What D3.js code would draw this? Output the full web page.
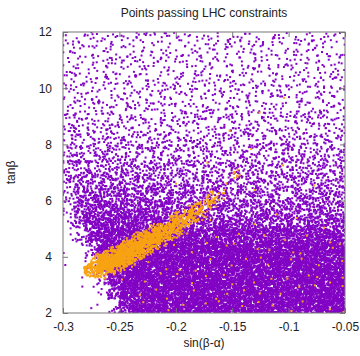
<!DOCTYPE html>
<html>
<head>
<meta charset="utf-8">
<script src="https://cdn.jsdelivr.net/npm/d3@7"></script>
<style>
  body { margin: 0; background: #fff; }
  svg { font-family: "Liberation Sans", Arial, sans-serif; }
</style>
</head>
<body>
<div id="chart"></div>
<script>
const xTicks = [-0.3, -0.25, -0.2, -0.15, -0.1, -0.05];
const yTicks = [2, 4, 6, 8, 10, 12];

// points per cell: 25 columns of 0.01 in sin(β-α) from -0.30,
// 20 rows of 0.5 in tanβ from 12 down to 2
const purpleCells = [
  [6,6,6,6,6,6,6,6,6,6,6,6,6,6,6,6,6,6,6,6,6,6,6,6,6],
  [6,6,6,6,6,6,6,6,6,6,6,6,6,6,6,6,6,6,6,6,6,6,6,6,6],
  [6,6,6,6,6,6,6,6,6,6,6,6,6,6,6,6,6,6,6,6,6,6,6,6,6],
  [7,7,7,7,7,7,7,7,7,7,7,7,7,7,7,7,7,7,7,7,7,7,7,7,7],
  [7,7,7,7,7,7,7,7,7,7,7,7,7,7,7,7,7,7,7,7,7,7,7,7,7],
  [8,8,8,8,8,8,8,8,8,8,8,8,8,8,8,8,8,8,8,8,8,8,8,8,8],
  [10,10,10,10,10,10,10,10,10,10,10,10,10,10,10,10,10,10,10,10,10,10,10,10,10],
  [12,12,12,12,12,12,12,12,12,12,12,12,12,12,12,12,12,12,12,12,12,12,12,12,12],
  [15,16,16,16,16,16,16,16,15,15,15,15,15,14,14,15,15,15,15,15,15,15,15,15,15],
  [17,20,21,21,21,21,21,20,20,19,19,18,17,17,17,18,18,18,18,18,18,18,18,18,18],
  [17,27,28,28,28,28,27,27,26,24,24,23,22,22,22,21,21,21,21,21,21,21,21,21,21],
  [13,34,38,38,38,38,37,36,35,31,31,30,29,29,29,26,26,26,26,26,26,26,26,26,26],
  [11,42,50,52,52,52,50,49,48,45,40,39,38,38,38,33,33,33,33,33,33,33,33,33,33],
  [7,30,68,72,72,72,70,68,66,63,58,55,53,53,53,48,46,46,46,46,46,46,46,46,46],
  [2,11,55,92,95,95,95,94,92,92,90,86,84,84,84,82,80,80,80,80,80,80,80,80,80],
  [1,2,22,88,108,110,110,110,110,110,108,108,108,108,108,108,108,108,108,108,108,108,108,108,108],
  [1,1,5,45,108,112,112,112,112,112,112,112,112,112,112,112,112,112,112,112,112,112,112,112,112],
  [0,1,2,13,85,114,114,114,114,114,114,114,114,114,114,114,114,114,114,114,114,114,114,114,114],
  [0,1,1,4,48,114,114,114,114,114,114,114,114,114,114,114,114,114,114,114,114,114,114,114,114],
  [0,0,1,1,9,66,114,114,114,114,114,114,114,114,114,114,114,114,114,114,114,114,114,114,114]
];

// scattered orange points, same grid
const orangeCells = [
  [0,0,0,0,0,0,0,0,0,0,0,0,0,0,0,0,0,0,0,0,0,0,0,0,0],
  [0,0,0,0,0,0,0,0,0,0,0,0,0,0,0,0,0,0,0,0,0,0,0,0,0],
  [0,0,0,0,0,0,0,0,0,0,0,0,0,0,0,0,0,0,0,0,0,0,0,0,0],
  [0,0,0,0,0,0,0,0,0,0,0,0,0,0,0,0,0,0,0,0,0,0,0,0,0],
  [0,0,0,0,0,0,0,0,0,0,0,0,0,0,0,0,0,0,0,1,0,0,0,0,0],
  [0,0,0,0,0,0,0,0,0,0,0,0,0,0,0,0,0,1,0,0,0,0,0,0,0],
  [0,0,0,0,0,0,0,0,0,0,0,0,0,0,0,0,0,0,0,0,0,0,0,0,0],
  [0,0,0,0,0,0,0,0,0,0,0,0,0,0,1,0,0,0,0,0,0,0,0,0,0],
  [0,0,0,0,0,0,0,0,0,0,0,0,0,0,0,0,1,0,0,0,0,0,0,0,0],
  [0,0,0,0,0,0,0,0,0,0,0,0,1,0,0,0,0,0,0,1,0,0,0,0,0],
  [0,0,0,0,0,0,0,0,0,0,1,0,0,0,1,0,0,0,0,0,0,0,1,0,0],
  [0,0,0,0,0,0,0,0,0,0,0,0,0,0,0,0,1,0,0,0,0,0,0,0,0],
  [0,0,0,0,0,0,0,0,0,0,0,0,1,0,0,0,0,0,1,0,0,0,0,0,0],
  [0,0,0,0,0,0,0,0,0,0,0,0,0,1,0,0,1,0,0,0,1,0,0,1,0],
  [0,0,0,0,0,0,0,0,0,1,0,1,0,1,0,1,0,1,0,1,0,1,0,1,0],
  [0,0,0,0,0,0,1,0,1,1,0,1,1,0,1,1,0,1,1,0,1,1,0,1,1],
  [0,0,0,0,0,0,1,1,0,1,1,1,0,1,1,0,1,1,1,0,1,1,1,0,1],
  [0,0,0,0,0,1,0,1,1,0,1,1,1,0,1,1,1,0,1,1,0,1,1,1,1],
  [0,0,0,0,0,0,1,0,1,1,0,1,0,1,1,0,1,1,0,1,1,0,1,0,1],
  [0,0,0,0,0,0,0,1,0,1,1,0,1,1,0,1,0,1,1,0,1,1,0,1,1]
];

// the orange band: centre line stations, half thickness in tanβ, points between stations
const bandX = [-0.281, -0.270, -0.249, -0.232, -0.214, -0.196, -0.179, -0.165, -0.143];
const bandT = [3.50, 3.66, 3.99, 4.38, 4.78, 5.20, 5.63, 6.05, 7.02];
const bandHalf = [0.12, 0.40, 0.45, 0.42, 0.39, 0.36, 0.33, 0.30, 0.24];
const bandCount = [90, 460, 440, 320, 210, 130, 55, 16];

const colStart = d3.range(25).map(i => -0.3 + i * 0.01);
const rowTop = d3.range(20).map(i => 12 - i * 0.5);

const width = 360, height = 356;
const margin = { top: 32, right: 15, bottom: 43, left: 63 };

const x = d3.scaleLinear().domain([-0.3, -0.05]).range([margin.left, width - margin.right]);
const y = d3.scaleLinear().domain([2, 12]).range([height - margin.bottom, margin.top]);

// seeded jitter only places each cell's counted points inside that cell
const jitter = d3.randomLcg(0.4217);

function cellPoints(cells) {
  const pts = [];
  cells.forEach((row, r) => row.forEach((n, c) => {
    for (let k = 0; k < n; k++) {
      pts.push({
        x: colStart[c] + jitter() * 0.01,
        t: rowTop[r] - jitter() * 0.5
      });
    }
  }));
  return pts;
}

function bandPoints() {
  const pts = [];
  bandCount.forEach((n, i) => {
    for (let k = 0; k < n; k++) {
      const u = jitter();
      const v = jitter() + jitter() - 1;  // thicker in the middle, soft edges
      const h = 1.35 * (bandHalf[i] + u * (bandHalf[i + 1] - bandHalf[i]));
      pts.push({
        x: bandX[i] + u * (bandX[i + 1] - bandX[i]),
        t: bandT[i] + u * (bandT[i + 1] - bandT[i]) + v * h
      });
    }
  });
  return pts;
}

const purple = cellPoints(purpleCells);
const orange = cellPoints(orangeCells).concat(bandPoints());

const svg = d3.select('#chart')
  .append('svg')
  .attr('width', width)
  .attr('height', height);

svg.append('defs').append('clipPath').attr('id', 'plot')
  .append('rect')
  .attr('x', margin.left).attr('y', margin.top)
  .attr('width', width - margin.left - margin.right)
  .attr('height', height - margin.top - margin.bottom);

const dots = svg.append('g').attr('clip-path', 'url(#plot)');

dots.append('g')
  .selectAll('rect')
  .data(purple)
  .join('rect')
  .attr('x', d => x(d.x) - 1)
  .attr('y', d => y(d.t) - 1)
  .attr('width', 2)
  .attr('height', 2)
  .attr('fill', '#8204c4');

dots.append('g')
  .selectAll('rect')
  .data(orange)
  .join('rect')
  .attr('x', d => x(d.x) - 1)
  .attr('y', d => y(d.t) - 1)
  .attr('width', 2)
  .attr('height', 2)
  .attr('fill', '#f8a313');

// axes: ticks inward, mirrored on top and right
const plotH = height - margin.top - margin.bottom;
const plotW = width - margin.left - margin.right;

svg.append('g')
  .attr('transform', `translate(0,${height - margin.bottom})`)
  .call(d3.axisBottom(x).tickValues(xTicks).tickFormat(d => String(d)).tickSizeInner(-5).tickSizeOuter(0).tickPadding(9))
  .call(g => g.select('.domain').remove());

svg.append('g')
  .attr('transform', `translate(0,${margin.top})`)
  .call(d3.axisTop(x).tickValues(xTicks).tickFormat('').tickSizeInner(-5).tickSizeOuter(0))
  .call(g => g.select('.domain').remove());

svg.append('g')
  .attr('transform', `translate(${margin.left},0)`)
  .call(d3.axisLeft(y).tickValues(yTicks).tickSizeInner(-5).tickSizeOuter(0).tickPadding(11))
  .call(g => g.select('.domain').remove());

svg.append('g')
  .attr('transform', `translate(${width - margin.right},0)`)
  .call(d3.axisRight(y).tickValues(yTicks).tickFormat('').tickSizeInner(-5).tickSizeOuter(0))
  .call(g => g.select('.domain').remove());

svg.selectAll('.tick line').attr('stroke', '#777');
svg.selectAll('.tick text')
  .attr('fill', '#222')
  .style('font-size', '12px')
  .style('font-family', '"Liberation Sans", Arial, sans-serif');

svg.append('rect')
  .attr('x', margin.left).attr('y', margin.top)
  .attr('width', plotW).attr('height', plotH)
  .attr('fill', 'none')
  .attr('stroke', '#777');

svg.append('text')
  .attr('x', margin.left + plotW / 2)
  .attr('y', 17)
  .attr('text-anchor', 'middle')
  .attr('font-size', 12)
  .attr('fill', '#222')
  .text('Points passing LHC constraints');

svg.append('text')
  .attr('x', margin.left + plotW / 2)
  .attr('y', 347)
  .attr('text-anchor', 'middle')
  .attr('font-size', 12)
  .attr('fill', '#222')
  .text('sin(β-α)');

svg.append('text')
  .attr('transform', `translate(15,${margin.top + plotH / 2}) rotate(-90)`)
  .attr('text-anchor', 'middle')
  .attr('font-size', 12)
  .attr('fill', '#222')
  .text('tanβ');
</script>
</body>
</html>
